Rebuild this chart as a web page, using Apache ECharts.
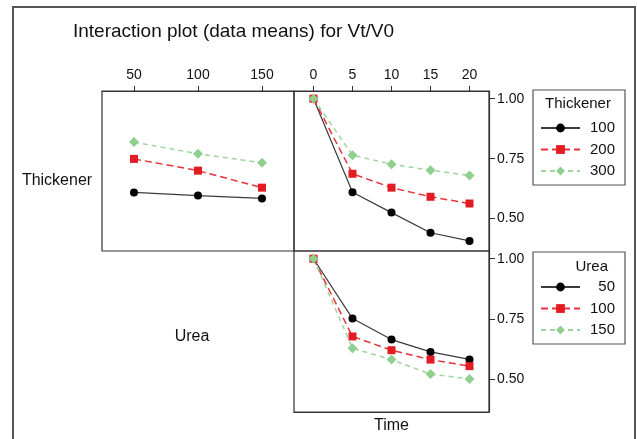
<!DOCTYPE html>
<html>
<head>
<meta charset="utf-8">
<script src="https://cdn.jsdelivr.net/npm/echarts@6/dist/echarts.min.js"></script>
<style>
  html, body { margin: 0; padding: 0; background: #fff; }
  #chart { width: 637px; height: 439px; }
</style>
</head>
<body>
<div id="chart"></div>
<script>
// Factor levels
const ureaLevels = [50, 100, 150];
const timeLevels = [0, 5, 10, 15, 20];
const thickenerLevels = [100, 200, 300];
const yTicks = [0.50, 0.75, 1.00];

// Mean Vt/V0 against urea, one array per thickener level
const thickenerByUrea100 = [0.609, 0.596, 0.584];
const thickenerByUrea200 = [0.749, 0.700, 0.629];
const thickenerByUrea300 = [0.819, 0.770, 0.733];

// Mean Vt/V0 against time, one array per thickener level
const thickenerByTime100 = [1.00, 0.610, 0.525, 0.441, 0.407];
const thickenerByTime200 = [1.00, 0.687, 0.629, 0.591, 0.563];
const thickenerByTime300 = [1.00, 0.764, 0.727, 0.702, 0.680];

// Mean Vt/V0 against time, one array per urea level
const ureaByTime50 = [1.00, 0.752, 0.665, 0.614, 0.583];
const ureaByTime100 = [1.00, 0.678, 0.621, 0.582, 0.555];
const ureaByTime150 = [1.00, 0.629, 0.582, 0.522, 0.502];

const thickenerByUrea = [thickenerByUrea100, thickenerByUrea200, thickenerByUrea300];
const thickenerByTime = [thickenerByTime100, thickenerByTime200, thickenerByTime300];
const ureaByTime = [ureaByTime50, ureaByTime100, ureaByTime150];

// One look per level position: solid black circles, red dashed squares, green dashed diamonds
const looks = [
  { line: '#3a3a3a', mark: '#000000', type: 'solid', width: 1.2, symbol: 'circle', size: 8 },
  { line: '#e8323a', mark: '#e31b23', type: [7, 4], width: 1.5, symbol: 'rect', size: 8 },
  { line: '#9dd69d', mark: '#8fcf8f', type: [5, 4], width: 1.5, symbol: 'diamond', size: 10 }
];

const FONT = 'Liberation Sans, Arial, sans-serif';
const frame = '#333333';
const yMin = 0.365, yMax = 1.032;

function zip(xs, ys) { return xs.map((x, i) => [x, ys[i]]); }

function lineSeries(name, look, axis, xs, ys) {
  return {
    name: name,
    type: 'line',
    xAxisIndex: axis,
    yAxisIndex: axis,
    data: zip(xs, ys),
    symbol: look.symbol,
    symbolSize: look.size,
    showSymbol: true,
    lineStyle: { color: look.line, width: look.width, type: look.type },
    itemStyle: { color: look.mark, borderWidth: 0 },
    emphasis: { disabled: true },
    animation: false
  };
}

const series = [];
thickenerLevels.forEach((lvl, i) => {
  series.push(lineSeries('Thickener ' + lvl, looks[i], 0, ureaLevels, thickenerByUrea[i]));
  series.push(lineSeries('Thickener ' + lvl, looks[i], 1, timeLevels, thickenerByTime[i]));
});
ureaLevels.forEach((lvl, i) => {
  series.push(lineSeries('Urea ' + lvl, looks[i], 2, timeLevels, ureaByTime[i]));
});

function topAxis(grid, min, max, ticks) {
  return {
    gridIndex: grid, type: 'value', position: 'top', min: min, max: max,
    axisLine: { show: true, onZero: false, lineStyle: { color: frame, width: 1.2 } },
    axisTick: { show: true, customValues: ticks, length: 5, lineStyle: { color: frame } },
    axisLabel: { customValues: ticks, fontFamily: FONT, fontSize: 14, color: '#111', margin: 9 },
    splitLine: { show: false }
  };
}

function rightAxis(grid) {
  return {
    gridIndex: grid, type: 'value', position: 'right', min: yMin, max: yMax,
    axisLine: { show: true, onZero: false, lineStyle: { color: frame, width: 1.2 } },
    axisTick: { show: true, customValues: yTicks, length: 6, lineStyle: { color: frame } },
    axisLabel: {
      customValues: yTicks, fontFamily: FONT, fontSize: 14, color: '#111', margin: 8,
      formatter: v => v.toFixed(2)
    },
    splitLine: { show: false }
  };
}

function legendBox(names, top, padTop, padBottom) {
  return {
    data: names,
    orient: 'vertical',
    left: 533,
    top: top,
    padding: [padTop, 10, padBottom, 7],
    itemGap: 6.5,
    itemWidth: 39,
    itemHeight: 11,
    borderColor: '#555',
    borderWidth: 1.2,
    selectedMode: false,
    formatter: n => '{v|' + n.split(' ')[1] + '}',
    textStyle: {
      rich: { v: { width: 30, align: 'right', fontFamily: FONT, fontSize: 15, color: '#111' } }
    }
  };
}

const option = {
  backgroundColor: '#ffffff',
  animation: false,
  grid: [
    { left: 102, top: 91, width: 192, height: 160, show: true, borderColor: frame, borderWidth: 1.2 },
    { left: 294, top: 91, width: 195, height: 160, show: true, borderColor: frame, borderWidth: 1.2 },
    { left: 294, top: 251, width: 195, height: 161, show: true, borderColor: frame, borderWidth: 1.2 }
  ],
  xAxis: [
    topAxis(0, 25, 175, ureaLevels),
    topAxis(1, -2.5, 22.5, timeLevels),
    {
      gridIndex: 2, type: 'value', position: 'bottom', min: -2.5, max: 22.5,
      axisLine: { show: true, onZero: false, lineStyle: { color: frame, width: 1.2 } },
      axisTick: { show: false }, axisLabel: { show: false }, splitLine: { show: false },
      name: 'Time', nameLocation: 'middle', nameGap: 6,
      nameTextStyle: { fontFamily: FONT, fontSize: 16, color: '#111' }
    }
  ],
  yAxis: [
    {
      gridIndex: 0, type: 'value', min: yMin, max: yMax,
      axisLine: { show: false, onZero: false }, axisTick: { show: false }, axisLabel: { show: false }, splitLine: { show: false }
    },
    rightAxis(1),
    rightAxis(2)
  ],
  legend: [
    legendBox(thickenerLevels.map(l => 'Thickener ' + l), 90, 30.5, 6.5),
    legendBox(ureaLevels.map(l => 'Urea ' + l), 252, 27.5, 6.5)
  ],
  graphic: [
    {
      type: 'rect', silent: true,
      shape: { x: 13, y: 7, width: 622, height: 470 },
      style: { fill: 'none', stroke: '#555', lineWidth: 2 }
    },
    {
      type: 'text', left: 73, top: 22,
      style: { text: 'Interaction plot (data means) for Vt/V0', font: '19px ' + FONT, fill: '#111' }
    },
    {
      type: 'text', x: 57, y: 181,
      style: { text: 'Thickener', font: '16px ' + FONT, fill: '#111', align: 'center', verticalAlign: 'middle' }
    },
    {
      type: 'text', x: 192, y: 337,
      style: { text: 'Urea', font: '16px ' + FONT, fill: '#111', align: 'center', verticalAlign: 'middle' }
    },
    {
      type: 'text', x: 578, y: 104,
      style: { text: 'Thickener', font: '15px ' + FONT, fill: '#111', align: 'center', verticalAlign: 'middle' }
    },
    {
      type: 'text', x: 608, y: 267,
      style: { text: 'Urea', font: '15px ' + FONT, fill: '#111', align: 'right', verticalAlign: 'middle' }
    }
  ],
  series: series
};

const chart = echarts.init(document.getElementById('chart'), null, { renderer: 'canvas' });
chart.setOption(option);
</script>
</body>
</html>
